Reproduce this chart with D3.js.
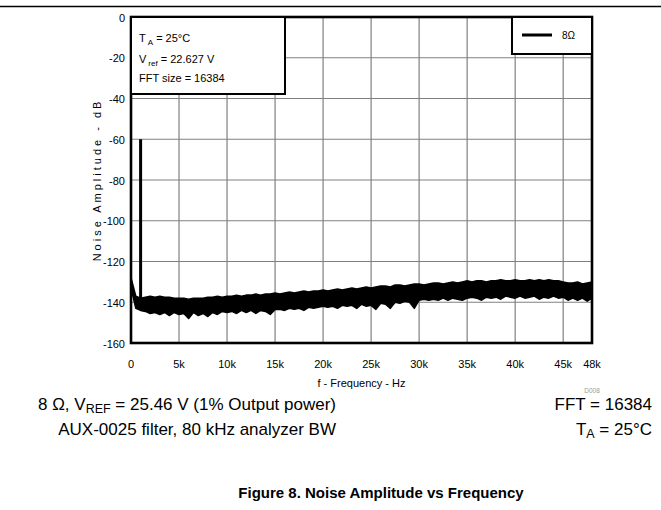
<!DOCTYPE html>
<html>
<head>
<script src="https://d3js.org/d3.v7.min.js"></script>
<style>
  body { margin: 0; background: #fff; }
  svg { font-family: 'Liberation Sans', Arial, sans-serif; }
</style>
</head>
<body>
<script>
// axis ticks
const yTicks = [0, -20, -40, -60, -80, -100, -120, -140, -160]
const xTicks = [0, 5000, 10000, 15000, 20000, 25000, 30000, 35000, 40000, 45000, 48000]
const xTickLabels = ['0', '5k', '10k', '15k', '20k', '25k', '30k', '35k', '40k', '45k', '48k']

// 1 kHz test tone
const toneFreq = [1000]
const toneLevel = [-60]

// noise floor envelope, read every 0.5 kHz (dB)
const bandFreq = [0, 500, 1000, 1500, 2000, 2500, 3000, 3500, 4000, 4500, 5000, 5500, 6000, 6500, 7000, 7500, 8000, 8500, 9000, 9500,
  10000, 10500, 11000, 11500, 12000, 12500, 13000, 13500, 14000, 14500, 15000, 15500, 16000, 16500, 17000, 17500, 18000, 18500, 19000, 19500,
  20000, 20500, 21000, 21500, 22000, 22500, 23000, 23500, 24000, 24500, 25000, 25500, 26000, 26500, 27000, 27500, 28000, 28500, 29000, 29500,
  30000, 30500, 31000, 31500, 32000, 32500, 33000, 33500, 34000, 34500, 35000, 35500, 36000, 36500, 37000, 37500, 38000, 38500, 39000, 39500,
  40000, 40500, 41000, 41500, 42000, 42500, 43000, 43500, 44000, 44500, 45000, 45500, 46000, 46500, 47000, 47500, 48000]
const bandTop = [-128, -137, -138, -137.5, -137, -137.5, -137, -137.5, -137.5, -138, -138, -138, -138.5, -138, -138, -138, -137.5, -137.5, -137, -137.5,
  -137, -137, -136.5, -137, -136.5, -136.5, -136, -136.5, -136, -136, -135.5, -136, -135.5, -135, -135.5, -135, -134.5, -135, -134.5, -134.5,
  -134, -134.5, -134, -133.5, -134, -133.5, -133, -133.5, -133, -132.5, -133, -132.5, -132, -132, -132.5, -131.5, -131.5, -132, -131.5, -131,
  -131, -131.5, -131, -130.5, -130.5, -131, -130.5, -130, -130.5, -130, -129.5, -130, -129.5, -129.5, -130, -129.5, -129.5, -129, -129.5, -129.5,
  -129, -129.5, -129.5, -129, -129.5, -129, -129.5, -129, -129.5, -129.5, -130, -130.5, -130.5, -130, -131, -130.5, -130]
const bandBottom = [-133, -143, -144, -144.5, -145.5, -145, -146, -145, -146.5, -145, -146, -145.5, -148, -145, -146.5, -145.5, -147, -145, -146, -144.5,
  -145, -144.5, -145.5, -144, -145, -144, -145.5, -144, -144.5, -146, -143.5, -143.5, -144, -143, -143.5, -143, -144, -142.5, -143, -142.5,
  -142, -142.5, -142, -143, -141.5, -142, -141.5, -143, -141, -142, -141.5, -143.5, -140.5, -141, -143, -140, -140.5, -139.5, -140, -143,
  -139, -138.5, -139, -138.5, -139, -138, -139, -138, -138.5, -139, -138, -137.5, -138, -139, -137.5, -138, -137.5, -138.5, -137, -137.5,
  -138, -137, -138, -137.5, -137, -138.5, -137.5, -138, -137, -138, -137.5, -139, -138, -139, -138, -139.5, -138]

const W = 661, H = 510
const pLeft = 131, pRight = 592, pTop = 17, pBottom = 343

const svg = d3.select('body').append('svg').attr('width', W).attr('height', H)

const x = d3.scaleLinear().domain([0, 48000]).range([pLeft, pRight])
const y = d3.scaleLinear().domain([-160, 0]).range([pBottom, pTop])

// top rule
svg.append('line').attr('x1', 0).attr('x2', W).attr('y1', 6.5).attr('y2', 6.5)
  .attr('stroke', '#000').attr('stroke-width', 1.3)

// grid
svg.append('g').selectAll('line').data(xTicks.slice(1, -1)).join('line')
  .attr('x1', d => x(d)).attr('x2', d => x(d)).attr('y1', pTop).attr('y2', pBottom)
  .attr('stroke', '#808080').attr('stroke-width', 1.2)
svg.append('g').selectAll('line').data(yTicks.slice(1, -1)).join('line')
  .attr('x1', pLeft).attr('x2', pRight).attr('y1', d => y(d)).attr('y2', d => y(d))
  .attr('stroke', '#808080').attr('stroke-width', 1.2)

// data
svg.append('clipPath').attr('id', 'plot').append('rect')
  .attr('x', pLeft).attr('y', pTop).attr('width', pRight - pLeft).attr('height', pBottom - pTop)
const plot = svg.append('g').attr('clip-path', 'url(#plot)')

const band = bandFreq.map((f, i) => ({f, hi: bandTop[i], lo: bandBottom[i]}))
plot.append('path').datum(band)
  .attr('d', d3.area().x(d => x(d.f)).y0(d => y(d.lo)).y1(d => y(d.hi)))
  .attr('fill', '#000').attr('stroke', '#000').attr('stroke-width', 1.5).attr('stroke-linejoin', 'round')

plot.selectAll('line.tone').data(toneFreq).join('line').attr('class', 'tone')
  .attr('x1', d => x(d)).attr('x2', d => x(d))
  .attr('y1', (d, i) => y(toneLevel[i])).attr('y2', y(-140))
  .attr('stroke', '#000').attr('stroke-width', 3)

// frame
svg.append('rect').attr('x', pLeft).attr('y', pTop).attr('width', pRight - pLeft).attr('height', pBottom - pTop)
  .attr('fill', 'none').attr('stroke', '#000').attr('stroke-width', 2.6)

// tick labels
svg.append('g').selectAll('text').data(yTicks).join('text')
  .attr('x', 125).attr('y', d => y(d) + 4.5).attr('text-anchor', 'end')
  .attr('font-size', 11).text(d => d)
svg.append('g').selectAll('text').data(xTicks).join('text')
  .attr('x', d => x(d)).attr('y', 368).attr('text-anchor', 'middle')
  .attr('font-size', 11).text((d, i) => xTickLabels[i])

// axis titles
svg.append('text').attr('x', x(24000)).attr('y', 387).attr('text-anchor', 'middle')
  .attr('font-size', 11).text('f - Frequency - Hz')
svg.append('text').attr('transform', 'translate(101,180) rotate(-90)').attr('text-anchor', 'middle')
  .attr('font-size', 11).attr('letter-spacing', 3).text('Noise Amplitude - dB')

svg.append('text').attr('x', 592).attr('y', 393).attr('text-anchor', 'middle')
  .attr('font-size', 6.5).attr('fill', '#999').text('D008')

// condition box
svg.append('rect').attr('x', pLeft).attr('y', pTop).attr('width', 154).attr('height', 77)
  .attr('fill', '#fff').attr('stroke', '#000').attr('stroke-width', 2)
const note = svg.append('g').attr('font-size', 11)
const t1 = note.append('text').attr('x', 139).attr('y', 42)
t1.append('tspan').text('T')
t1.append('tspan').attr('font-size', 8).attr('dx', 2).attr('dy', 3).text('A')
t1.append('tspan').attr('dy', -3).text(' = 25°C')
const t2 = note.append('text').attr('x', 139).attr('y', 63)
t2.append('tspan').text('V')
t2.append('tspan').attr('font-size', 8).attr('dx', 2).attr('dy', 3).text('ref')
t2.append('tspan').attr('dy', -3).text('  = 22.627 V')
note.append('text').attr('x', 139).attr('y', 82).text('FFT size = 16384')

// legend
svg.append('rect').attr('x', 512).attr('y', pTop).attr('width', pRight - 512).attr('height', 37)
  .attr('fill', '#fff').attr('stroke', '#000').attr('stroke-width', 2)
svg.append('line').attr('x1', 522).attr('x2', 552).attr('y1', 35).attr('y2', 35)
  .attr('stroke', '#000').attr('stroke-width', 3)
svg.append('text').attr('x', 562).attr('y', 39).attr('font-size', 10).text('8Ω')

// conditions under the chart
const cond = svg.append('g').attr('font-size', 17)
const c1 = cond.append('text').attr('x', 336).attr('y', 410).attr('text-anchor', 'end')
c1.append('tspan').text('8 Ω, V')
c1.append('tspan').attr('font-size', 12.5).attr('dy', 3).text('REF')
c1.append('tspan').attr('dy', -3).text(' = 25.46 V (1% Output power)')
cond.append('text').attr('x', 336).attr('y', 435).attr('text-anchor', 'end')
  .text('AUX-0025 filter, 80 kHz analyzer BW')
cond.append('text').attr('x', 652).attr('y', 410).attr('text-anchor', 'end').text('FFT = 16384')
const c2 = cond.append('text').attr('x', 652).attr('y', 435).attr('text-anchor', 'end')
c2.append('tspan').text('T')
c2.append('tspan').attr('font-size', 12.5).attr('dy', 3).text('A')
c2.append('tspan').attr('dy', -3).text(' = 25°C')

svg.append('text').attr('x', 381).attr('y', 498).attr('text-anchor', 'middle')
  .attr('font-size', 15).attr('font-weight', 'bold').text('Figure 8. Noise Amplitude vs Frequency')
</script>
</body>
</html>
